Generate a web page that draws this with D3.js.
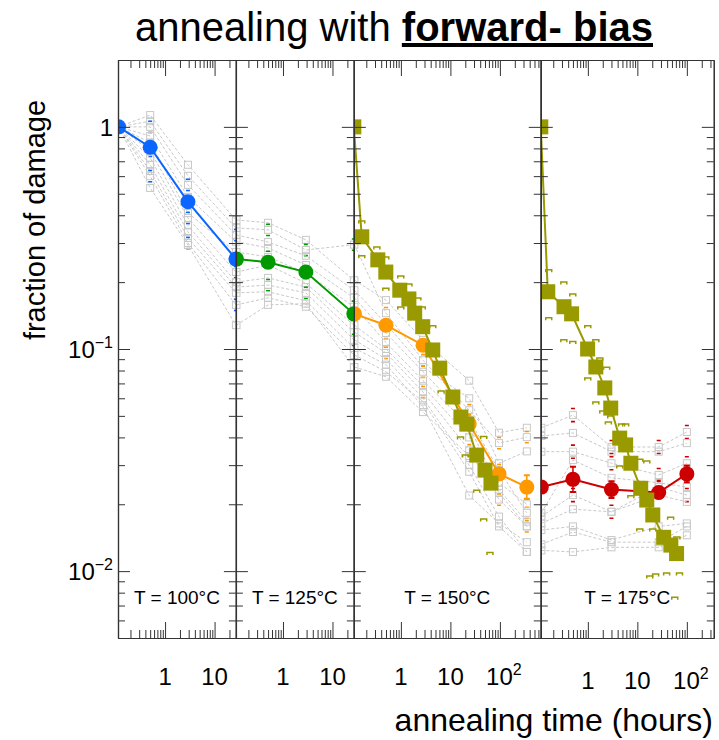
<!DOCTYPE html>
<html>
<head>
<meta charset="utf-8">
<script src="https://cdn.jsdelivr.net/npm/d3@7"></script>
<style>
  body { margin: 0; background: #fff; }
  text { font-family: "Liberation Sans", Arial, sans-serif; fill: #000; }
</style>
</head>
<body>
<div id="chart"></div>
<script>
// ---- data ----
const panelLabels = ["T = 100°C", "T = 125°C", "T = 150°C", "T = 175°C"];
const timeMin = 0.112;
const timeMax = [27, 27, 670, 350];
const xTickValues = [[1, 10], [1, 10], [1, 10, 100], [1, 10, 100]];
const yTickValues = [1, 0.1, 0.01];

// mean of samples (circles)
const meanTimes = [
    [0.115, 0.5, 2.9, 27],
    [0.115, 0.5, 2.9, 27],
    [0.115, 0.5, 2.8, 24, 96, 350],
    [0.115, 0.5, 3, 27, 100]
];
const meanValues = [
    [1.0, 0.81, 0.46, 0.254],
    [0.254, 0.246, 0.222, 0.144],
    [0.144, 0.128, 0.104, 0.046, 0.0274, 0.0239],
    [0.0239, 0.0259, 0.0233, 0.0226, 0.0274]
];
const meanErr = [
    [0.02, 0.02, 0.02, 0.02],
    [0.02, 0.02, 0.02, 0.02],
    [0.02, 0.02, 0.03, 0.05, 0.06, 0.13],
    [0.05, 0.14, 0.09, 0.06, 0.09]
];

// individual samples (grey squares, dashed), one row per sample
const samplesP1 = [
    [1, 1.13, 0.675, 0.381],
    [1, 1.06, 0.602, 0.351],
    [1, 1.00, 0.548, 0.326],
    [1, 0.91, 0.484, 0.304],
    [1, 0.85, 0.41, 0.273],
    [1, 0.78, 0.389, 0.222],
    [1, 0.725, 0.36, 0.20],
    [1, 0.675, 0.337, 0.19],
    [1, 0.633, 0.316, 0.179],
    [1, 0.60, 0.30, 0.158],
    [1, 0.531, 0.294, 0.128]
];
const samplesP2 = [
    [0.381, 0.370, 0.310, 0.204],
    [0.351, 0.344, 0.279, 0.295],
    [0.326, 0.303, 0.263, 0.184],
    [0.304, 0.285, 0.239, 0.170],
    [0.273, 0.260, 0.220, 0.155],
    [0.222, 0.239, 0.198, 0.128],
    [0.200, 0.209, 0.190, 0.119],
    [0.190, 0.194, 0.179, 0.110],
    [0.179, 0.181, 0.165, 0.101],
    [0.158, 0.170, 0.155, 0.094],
    [0.128, 0.158, 0.160, 0.083]
];
const samplesP3 = [
    [0.204, 0.166, 0.110, 0.072, 0.042, 0.0442],
    [0.295, 0.145, 0.089, 0.053, 0.0377, 0.0401],
    [0.184, 0.130, 0.083, 0.060, 0.0306, 0.0346],
    [0.170, 0.118, 0.079, 0.048, 0.0285, 0.0183],
    [0.155, 0.107, 0.072, 0.045, 0.0233, 0.0167],
    [0.128, 0.100, 0.068, 0.040, 0.0225, 0.0159],
    [0.119, 0.096, 0.064, 0.035, 0.021, 0.0159],
    [0.110, 0.090, 0.060, 0.030, 0.0176, 0.0122],
    [0.101, 0.085, 0.055, 0.0219, 0.0164, 0.0135],
    [0.094, 0.079, 0.058, 0.028, 0.0159, 0.0122],
    [0.083, 0.075, 0.052, 0.033, 0.025, 0.020]
];
const samplesP4 = [
    [0.0442, 0.0504, 0.0362, 0.0362, 0.0423],
    [0.0406, 0.0419, 0.0345, 0.0345, 0.0377],
    [0.0345, 0.0345, 0.0306, 0.0271, 0.0306],
    [0.0183, 0.0316, 0.0263, 0.0250, 0.0239],
    [0.0176, 0.0220, 0.0185, 0.0239, 0.0220],
    [0.0164, 0.0190, 0.0185, 0.0220, 0.0205],
    [0.0153, 0.0159, 0.0138, 0.0159, 0.0164],
    [0.0132, 0.0150, 0.0135, 0.0135, 0.0159],
    [0.0124, 0.0122, 0.0128, 0.0128, 0.0145]
];
// relative error of each sample (0 = bar hidden inside the square)
const sampleErr = [
    [0, 0, 0.06, 0, 0, 0.06, 0, 0, 0, 0.06, 0],
    [0, 0.06, 0, 0, 0.06, 0, 0, 0.06, 0, 0, 0],
    [0, 0.06, 0, 0.06, 0, 0, 0.06, 0, 0, 0, 0],
    [0.07, 0, 0.07, 0, 0.07, 0, 0, 0, 0]
];

// forward-bias sample (olive squares) at 150 and 175 C
const fwdTimesP3 = [0.112, 0.162, 0.342, 0.496, 0.95, 1.45, 1.9, 2.76, 4.4, 6.1, 11.2, 16.3, 21.5, 34, 50, 66];
const fwdValuesP3 = [1.0, 0.320, 0.252, 0.222, 0.184, 0.168, 0.145, 0.126, 0.099, 0.082, 0.0608, 0.0494, 0.0459, 0.0333, 0.0285, 0.0249];
const fwdTimesP4 = [0.112, 0.155, 0.33, 0.47, 0.99, 1.45, 2.2, 2.9, 4.4, 5.8, 7.4, 11.7, 15.5, 20.5, 34, 47.5, 62];
const fwdValuesP4 = [1.0, 0.181, 0.155, 0.144, 0.100, 0.083, 0.0668, 0.0542, 0.0397, 0.0370, 0.0306, 0.0236, 0.0209, 0.0179, 0.0142, 0.0131, 0.0120];
const fwdErr = 0.04;

// single forward-bias measurements (small olive marks) [time, value]
const fwdMarksP3 = [
    [0.162, 0.373], [0.162, 0.260], [0.327, 0.285], [0.496, 0.257], [0.496, 0.186],
    [0.995, 0.211], [0.995, 0.153], [1.45, 0.194], [2.2, 0.168], [2.7, 0.153],
    [4.4, 0.126], [6.5, 0.064], [16, 0.0397], [20, 0.033], [34, 0.0229],
    [47, 0.0170], [63, 0.0120], [47, 0.040]
];
const fwdMarksP4 = [
    [0.162, 0.225], [0.327, 0.198], [0.496, 0.175], [0.162, 0.137], [0.327, 0.109],
    [0.496, 0.107], [0.995, 0.126], [1.45, 0.109], [0.995, 0.0733], [1.75, 0.0902],
    [2.4, 0.082], [1.45, 0.0571], [2.0, 0.052], [2.9, 0.0494], [5.8, 0.0455],
    [2.6, 0.0464], [4.8, 0.0455], [4.4, 0.0294], [11.2, 0.0316], [15.5, 0.031],
    [7.4, 0.0216], [20.5, 0.0185], [47, 0.0173], [11.2, 0.0153], [20.5, 0.0153],
    [63, 0.0141], [17.8, 0.0094], [23.4, 0.0096], [39, 0.0097], [71, 0.0097], [57, 0.00755]
];

const samples = [samplesP1, samplesP2, samplesP3, samplesP4];
const fwdTimes = [null, null, fwdTimesP3, fwdTimesP4];
const fwdValues = [null, null, fwdValuesP3, fwdValuesP4];
const fwdMarks = [null, null, fwdMarksP3, fwdMarksP4];

// ---- styles ----
const meanColors = ["#0a66ff", "#009900", "#ff9900", "#cc0000"];
const olive = "#999900";
const grey = "#c8c8c8";
const axisColor = "#333";

// ---- layout ----
const W = 719, H = 740;
const plotTop = 60, plotBottom = 638, plotLeft = 118;
const decadePx = 49.5;

const svg = d3.select("#chart").append("svg")
    .attr("width", W)
    .attr("height", H);

const y = d3.scaleLog().domain([0.005, 2]).range([plotBottom, plotTop]);

// panels share the same decade width
let xPos = plotLeft;
const panels = timeMax.map((tmax, i) => {
    const w = decadePx * Math.log10(tmax / timeMin);
    const p = {i: i, x0: xPos, w: w,
        x: d3.scaleLog().domain([timeMin, tmax]).range([xPos, xPos + w])};
    xPos += w;
    return p;
});

const defs = svg.append("defs");

function errBar(g, cx, v, e, color, capW, sw, withStem) {
    const y1 = y(v * (1 + e)), y2 = y(v / (1 + e));
    if (withStem) {
        g.append("line").attr("x1", cx).attr("x2", cx).attr("y1", y1).attr("y2", y2)
            .attr("stroke", color).attr("stroke-width", sw);
    }
    [y1, y2].forEach(yy => {
        g.append("line").attr("x1", cx - capW / 2).attr("x2", cx + capW / 2)
            .attr("y1", yy).attr("y2", yy)
            .attr("stroke", color).attr("stroke-width", sw + 0.6);
    });
}

const isDecade = t => Math.abs(Math.log10(t) - Math.round(Math.log10(t))) < 1e-6;

panels.forEach(p => {
    const i = p.i;
    defs.append("clipPath").attr("id", "clip" + i)
        .append("rect")
        .attr("x", p.x0).attr("y", plotTop)
        .attr("width", p.w).attr("height", plotBottom - plotTop);

    const g = svg.append("g").attr("clip-path", `url(#clip${i})`);
    const times = meanTimes[i];

    // grey sample traces
    const line = d3.line().x(d => p.x(d[0])).y(d => y(d[1]));
    samples[i].forEach((row, k) => {
        const pts = row.map((v, j) => [times[j], v]);
        g.append("path").attr("d", line(pts))
            .attr("fill", "none").attr("stroke", grey)
            .attr("stroke-width", 1).attr("stroke-dasharray", "3,2");
        if (sampleErr[i][k] > 0) {
            pts.slice(1).forEach(d => errBar(g, p.x(d[0]), d[1], sampleErr[i][k], meanColors[i], 4, 1, false));
        }
        g.selectAll(null).data(pts).enter().append("rect")
            .attr("x", d => p.x(d[0]) - 3.5).attr("y", d => y(d[1]) - 3.5)
            .attr("width", 7).attr("height", 7)
            .attr("fill", "none").attr("stroke", grey).attr("stroke-width", 1);
    });

    // single forward-bias marks
    if (fwdMarks[i]) {
        g.selectAll(null).data(fwdMarks[i]).enter().append("path")
            .attr("transform", d => `translate(${p.x(d[0])},${y(d[1])})`)
            .attr("d", "M-3,1.5V-1H3V1.5")
            .attr("fill", "none").attr("stroke", olive).attr("stroke-width", 1.5);
    }

    // mean series
    const meanPts = times.map((t, j) => [t, meanValues[i][j]]);
    g.append("path").attr("d", line(meanPts))
        .attr("fill", "none").attr("stroke", meanColors[i]).attr("stroke-width", 2);
    meanPts.forEach((d, j) => errBar(g, p.x(d[0]), d[1], meanErr[i][j], meanColors[i], 6, 1.5, true));
    g.selectAll(null).data(meanPts).enter().append("circle")
        .attr("cx", d => p.x(d[0])).attr("cy", d => y(d[1]))
        .attr("r", 7.5).attr("fill", meanColors[i]);

    // forward-bias series
    if (fwdTimes[i]) {
        const fPts = fwdTimes[i].map((t, j) => [t, fwdValues[i][j]]);
        g.append("path").attr("d", line(fPts))
            .attr("fill", "none").attr("stroke", olive).attr("stroke-width", 2);
        fPts.forEach(d => errBar(g, p.x(d[0]), d[1], fwdErr, olive, 6, 1.5, true));
        g.selectAll(null).data(fPts).enter().append("rect")
            .attr("x", d => p.x(d[0]) - 7.5).attr("y", d => y(d[1]) - 7.5)
            .attr("width", 15).attr("height", 15)
            .attr("fill", olive);
    }

    // axes: minor + major ticks, all pointing inward
    const xMajor = p.x.ticks().filter(isDecade);
    const xMinor = p.x.ticks().filter(t => !isDecade(t));
    const yMinor = y.ticks().filter(t => !isDecade(t));

    const axes = [
        [d3.axisTop(p.x).tickValues(xMinor).tickSize(-8), `translate(0,${plotTop})`],
        [d3.axisTop(p.x).tickValues(xMajor).tickSize(-16), `translate(0,${plotTop})`],
        [d3.axisBottom(p.x).tickValues(xMinor).tickSize(-8), `translate(0,${plotBottom})`],
        [d3.axisBottom(p.x).tickValues(xMajor).tickSize(-16), `translate(0,${plotBottom})`],
        [d3.axisLeft(y).tickValues(yMinor).tickSize(-7), `translate(${p.x0},0)`],
        [d3.axisLeft(y).tickValues(yTickValues).tickSize(-12), `translate(${p.x0},0)`],
        [d3.axisRight(y).tickValues(yMinor).tickSize(-7), `translate(${p.x0 + p.w},0)`],
        [d3.axisRight(y).tickValues(yTickValues).tickSize(-12), `translate(${p.x0 + p.w},0)`]
    ];
    axes.forEach(([ax, tr]) => {
        const a = svg.append("g").attr("transform", tr)
            .call(ax.tickSizeOuter(0).tickFormat(""));
        a.selectAll("path.domain").attr("stroke", axisColor).attr("stroke-width", 1.2);
        a.selectAll(".tick line").attr("stroke", axisColor).attr("stroke-width", 1);
    });

    // x tick labels
    const labelY = 685 + (i === 3 ? 4 : 0);
    xTickValues[i].forEach(t => {
        const txt = svg.append("text")
            .attr("x", p.x(t)).attr("y", labelY)
            .attr("text-anchor", "middle")
            .attr("font-size", 24);
        if (t >= 100) {
            txt.append("tspan").text("10");
            txt.append("tspan").attr("dy", -10).attr("font-size", 16).text(Math.log10(t));
            txt.attr("x", p.x(t) + 4);
        } else {
            txt.text(t);
        }
    });

    // temperature label
    svg.append("text")
        .attr("x", p.x0 + p.w / 2).attr("y", 604)
        .attr("text-anchor", "middle")
        .attr("font-size", 19)
        .text(panelLabels[i]);
});

// y tick labels
yTickValues.forEach(v => {
    const txt = svg.append("text")
        .attr("x", plotLeft - 5).attr("y", y(v) + 9)
        .attr("text-anchor", "end")
        .attr("font-size", 24);
    const e = Math.round(Math.log10(v));
    if (e === 0) {
        txt.text("1");
    } else {
        txt.append("tspan").text("10");
        txt.append("tspan").attr("dy", -10).attr("font-size", 16).text("−" + (-e));
    }
});

// axis titles
svg.append("text")
    .attr("transform", `translate(45,${(plotTop + 380) / 2}) rotate(-90)`)
    .attr("text-anchor", "middle")
    .attr("font-size", 29)
    .text("fraction of damage");

svg.append("text")
    .attr("x", 713).attr("y", 731)
    .attr("text-anchor", "end")
    .attr("font-size", 32)
    .text("annealing time (hours)");

// title
const title = svg.append("text")
    .attr("x", 394).attr("y", 41)
    .attr("text-anchor", "middle")
    .attr("font-size", 40);
title.append("tspan").text("annealing with ");
title.append("tspan").attr("font-weight", "bold")
    .style("text-decoration", "underline")
    .text("forward- bias");
</script>
</body>
</html>
